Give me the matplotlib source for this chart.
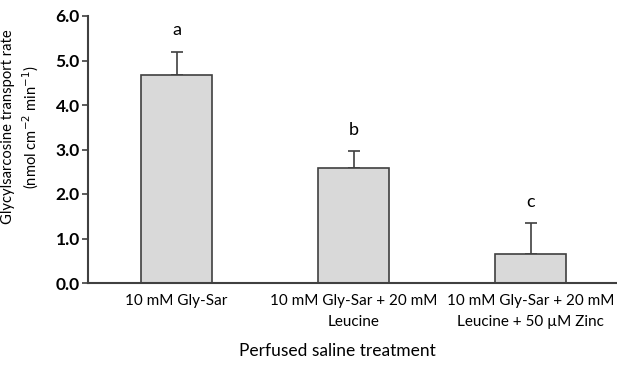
import numpy as np
import matplotlib
matplotlib.use('Agg')
import matplotlib.pyplot as plt

# data
treatments = ['10 mM Gly-Sar',
              '10 mM Gly-Sar + 20 mM\nLeucine',
              '10 mM Gly-Sar + 20 mM\nLeucine + 50 \u00b5M Zinc']
rates = [4.67, 2.58, 0.65]
errors = [0.53, 0.38, 0.70]
letters = ['a', 'b', 'c']

plt.rcParams['font.family'] = ['Lato', 'DejaVu Sans']

fig = plt.figure(figsize=(6.17, 3.65), dpi=100)
ax = fig.add_axes([88 / 617, 1 - 283 / 365, 531 / 617, 267 / 365])

x = np.arange(len(treatments))
ax.bar(x, rates, width=0.40, color='#d9d9d9', edgecolor='#404040', linewidth=1.2, zorder=2)
ax.errorbar(x, rates, yerr=[np.zeros(len(errors)), errors], fmt='none',
            ecolor='#404040', elinewidth=1.2, capsize=4, capthick=1.2, zorder=1)

for xi, r, e, lab in zip(x, rates, errors, letters):
    ax.text(xi, r + e + 0.3, lab, ha='center', va='bottom', fontsize=13)

ax.set_xlim(-0.5, 2.5)
ax.set_ylim(0, 6.0)
ax.set_yticks(np.arange(0, 6.01, 1.0))
ax.set_yticklabels(['%.1f' % v for v in np.arange(0, 6.01, 1.0)], fontsize=12.5, fontweight='bold')
ax.set_xticks(x)
ax.set_xticklabels(treatments, fontsize=11, linespacing=1.6)
ax.tick_params(axis='x', length=0, pad=8)
ax.tick_params(axis='y', length=4, width=1.2, color='#404040', pad=2)

for s in ['top', 'right']:
    ax.spines[s].set_visible(False)
for s in ['left', 'bottom']:
    ax.spines[s].set_color('#404040')
    ax.spines[s].set_linewidth(1.5)

ax.set_ylabel('Glycylsarcosine transport rate\n(nmol cm$^{-2}$ min$^{-1}$)', fontsize=10.6, linespacing=1.35)
ax.yaxis.set_label_coords(-0.088, 0.585)
ax.set_xlabel('Perfused saline treatment', fontsize=12.5)
ax.xaxis.set_label_coords(0.469, -0.226)

fig.savefig('out.png', dpi=100)
